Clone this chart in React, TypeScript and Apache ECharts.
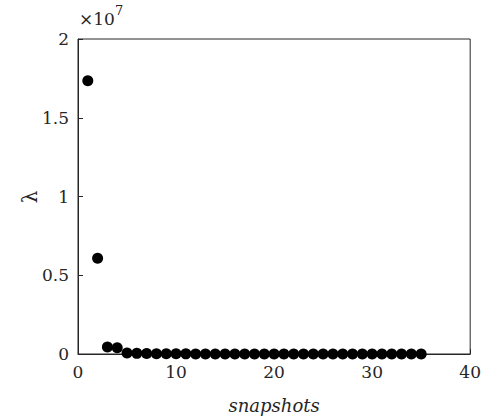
import React, { useEffect, useRef } from "react";
import * as echarts from "echarts";

const snapshots = [1,2,3,4,5,6,7,8,9,10,11,12,13,14,15,16,17,18,19,20,21,22,23,24,25,26,27,28,29,30,31,32,33,34,35];
const lambdaValues = [
  1.735e7, 0.608e7, 0.045e7, 0.04e7, 0.006e7, 0.004e7, 0.003e7, 0.002e7, 0.0015e7, 0.001e7,
  0.0008e7, 0.0006e7, 0.0005e7, 0.0004e7, 0.0003e7, 0.0003e7, 0.0002e7, 0.0002e7, 0.0002e7, 0.0001e7,
  0.0001e7, 0.0001e7, 0.0001e7, 0.0001e7, 0.0001e7, 0.0001e7, 0.0001e7, 0.0001e7, 0.0001e7, 0.0001e7,
  0.0001e7, 0.0001e7, 0.0001e7, 0.0001e7, 0.0001e7,
];
const xTicks = [0, 10, 20, 30, 40];
const yTickLabels = ["0", "0.5", "1", "1.5", "2"];

export default function App() {
  const ref = useRef<HTMLDivElement>(null);
  useEffect(() => {
    document.body.style.margin = "0";
    if (!ref.current) return;
    const chart = echarts.init(ref.current, null, { renderer: "svg" });
    const font = "DejaVu Serif";
    const axisColor = "#262626";
    chart.setOption({
      animation: false,
      backgroundColor: "#ffffff",
      textStyle: { fontFamily: font },
      grid: { left: 78, top: 39, right: 11, bottom: 64, show: true, borderColor: axisColor, borderWidth: 1 },
      xAxis: {
        type: "value",
        min: xTicks[0],
        max: xTicks[xTicks.length - 1],
        interval: 10,
        name: "snapshots",
        nameLocation: "middle",
        nameGap: 42,
        nameTextStyle: { fontFamily: font, fontStyle: "italic", fontSize: 18, color: axisColor },
        axisLine: { show: true, lineStyle: { color: axisColor } },
        axisTick: { show: true, inside: true, length: 5, lineStyle: { color: axisColor } },
        axisLabel: { fontFamily: font, fontSize: 17, color: axisColor, margin: 9 },
        splitLine: { show: false },
      },
      yAxis: {
        type: "value",
        min: 0,
        max: 2e7,
        interval: 0.5e7,
        axisLine: { show: true, lineStyle: { color: axisColor } },
        axisTick: { show: true, inside: true, length: 5, lineStyle: { color: axisColor } },
        axisLabel: {
          fontFamily: font,
          fontSize: 17,
          color: axisColor,
          margin: 9,
          formatter: (v: number) => yTickLabels[Math.round(v / 0.5e7)] ?? "",
        },
        splitLine: { show: false },
      },
      graphic: [
        {
          type: "text",
          left: 79,
          top: 4,
          style: {
            text: "{a|×10}{b|7}",
            rich: {
              a: { fontFamily: font, fontSize: 17, fill: axisColor, verticalAlign: "bottom" },
              b: { fontFamily: font, fontSize: 13, fill: axisColor, verticalAlign: "top", padding: [0, 0, 10, 0] },
            },
          },
        },
        {
          type: "text",
          x: 30,
          y: 197,
          rotation: Math.PI / 2,
          style: {
            text: "λ",
            fontFamily: font,
            fontSize: 20,
            fill: axisColor,
            align: "center",
            verticalAlign: "middle",
          },
        },
      ],
      series: [
        {
          type: "scatter",
          data: snapshots.map((s, i) => [s, lambdaValues[i]]),
          symbol: "circle",
          symbolSize: 11,
          itemStyle: { color: "#000000", opacity: 1 },
        },
      ],
    });
    return () => chart.dispose();
  }, []);
  return <div ref={ref} style={{ width: 484, height: 419 }} />;
}
